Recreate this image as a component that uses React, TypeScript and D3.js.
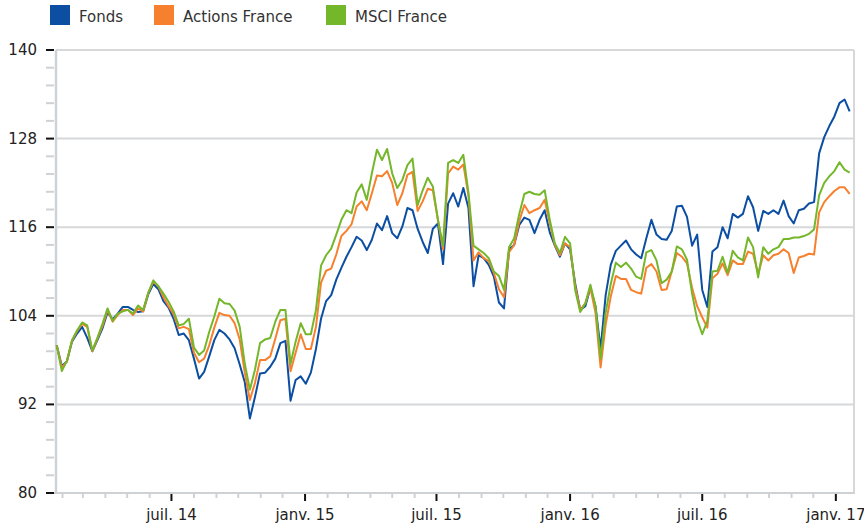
import React, { useEffect, useRef } from 'react';
import * as d3 from 'd3';

// weekly closes, base 100
const firstDate = new Date(2014, 0, 24);

const fonds = [
  100, 97.2, 97.8, 100.5, 101.6, 102.5, 101.0, 99.2, 100.7, 102.3,
  104.5, 103.5, 104.3, 105.2, 105.2, 104.8, 104.5, 104.6, 106.9, 108.3,
  107.6, 106.0, 105.1, 103.6, 101.4, 101.6, 100.7, 98.2, 95.5, 96.4,
  98.5, 100.7, 102.1, 101.6, 100.8, 99.6, 97.4, 95.0, 90.1, 93.0,
  96.2, 96.3, 97.1, 98.2, 100.3, 100.6, 92.5, 95.3, 95.8, 94.8,
  96.3, 99.5, 103.6, 106.0, 106.8, 108.9, 110.5, 112.0, 113.3, 114.7,
  114.2, 112.9, 114.3, 116.5, 115.6, 117.5, 115.2, 114.5, 116.1, 118.6,
  118.3, 115.8, 114.0, 112.5, 115.8, 116.5, 111.0, 119.2, 120.6, 118.8,
  121.3, 118.6, 108.0, 112.2, 111.8, 110.9, 109.3, 105.8, 105.0, 113.0,
  113.6, 116.3, 117.3, 117.0, 115.2, 117.0, 118.3, 115.3, 113.5, 112.0,
  113.8, 113.0, 108.4, 104.8, 105.3, 107.8, 105.3, 99.5, 106.8, 110.9,
  112.8, 113.5, 114.2, 113.0, 112.3, 111.8, 114.5, 117.0, 115.0, 114.4,
  114.3, 115.5, 118.8, 118.9, 117.4, 113.5, 115.0, 107.5, 105.2, 112.7,
  113.3, 116.0, 114.5, 117.8, 117.3, 117.8, 120.2, 118.7, 115.5, 118.2,
  117.8, 118.3, 117.8, 119.6, 117.5, 116.5, 118.3, 118.5, 119.2, 119.4,
  126.0, 128.2, 129.7, 131.0, 132.8, 133.3, 131.7
];

const actionsFrance = [
  100, 97.0, 97.8, 100.6, 101.9, 102.9, 102.5, 99.2, 100.9, 102.6,
  104.8, 103.2, 104.1, 104.8, 104.8, 104.1, 105.0, 104.6, 107.1, 108.6,
  108.0, 106.5, 105.3, 104.2, 102.3, 102.5, 102.2, 99.0, 97.7, 98.2,
  100.0, 102.4, 104.4, 104.1, 104.0, 103.0, 100.8, 96.3, 92.6, 94.9,
  98.0, 98.0, 98.5, 100.9, 103.4, 103.6, 96.5, 99.0, 101.5, 99.5,
  99.5, 102.5, 108.5, 110.1, 110.4, 112.3, 114.8, 115.5, 116.4, 118.8,
  119.5, 118.3, 120.6, 123.0, 122.9, 123.6, 122.0, 119.0, 120.6, 123.1,
  123.5, 118.2, 119.5, 121.2, 121.0, 117.0, 113.0, 123.3, 124.2, 123.8,
  124.5, 120.3, 111.5, 112.6, 111.8, 111.4, 109.8, 107.6, 106.5, 112.6,
  113.6, 116.8, 119.0, 117.9, 118.3, 118.6, 119.7, 116.5, 113.6, 112.2,
  113.8, 113.3, 108.0, 104.8, 105.7, 107.8, 104.4, 97.0, 102.8, 106.6,
  109.4, 109.0, 109.0, 107.5, 107.2, 107.0, 110.5, 111.0, 110.0, 107.5,
  107.6, 110.0, 112.5, 112.0, 111.1, 107.8, 105.3, 103.8, 102.4, 109.1,
  109.7, 111.1, 109.5, 111.5, 111.0, 111.0, 112.7, 112.4, 109.7, 112.2,
  111.5, 112.2, 112.4, 113.0, 112.5, 109.8, 111.9, 112.1, 112.4, 112.3,
  118.0, 119.4, 120.2, 120.9, 121.4, 121.4, 120.5
];

const msciFrance = [
  100, 96.5, 97.9, 100.7, 102.0, 103.1, 102.7, 99.3, 101.0, 102.9,
  105.0, 103.3, 104.3, 104.6, 104.8, 104.3, 105.4, 104.8, 107.1, 108.8,
  108.0, 107.0, 105.9, 104.6, 102.7, 102.9, 103.6, 99.7, 98.7, 99.3,
  101.8, 103.9, 106.3, 105.7, 105.6, 104.7, 102.5, 97.5, 94.0, 96.7,
  100.3, 100.8, 101.0, 103.2, 104.8, 104.8, 97.5, 100.5, 103.0, 101.5,
  101.5, 104.8, 110.8, 112.2, 113.1, 115.0, 117.0, 118.3, 117.9, 120.7,
  121.8, 119.7, 123.3, 126.5, 125.1, 126.6, 123.3, 121.3, 122.4, 124.4,
  125.3, 119.0, 121.0, 122.7, 121.5, 117.0, 113.5, 124.7, 125.1, 124.7,
  125.8, 120.7, 113.5, 113.0, 112.5, 111.8, 110.0, 109.4, 107.5, 113.3,
  114.5, 117.8, 120.5, 120.8, 120.5, 120.4, 121.0, 117.0, 113.8, 112.5,
  114.7, 113.8, 107.5, 104.5, 105.7, 108.2, 105.3, 98.2, 104.4, 108.3,
  111.2, 110.6, 111.2, 110.4, 109.3, 109.0, 112.6, 112.9, 111.5, 108.4,
  108.9, 110.0, 113.4, 113.0, 111.6, 107.0, 103.5, 101.5, 103.3, 110.0,
  110.1, 112.0, 109.8, 112.8, 111.9, 111.5, 114.6, 113.3, 109.2, 113.3,
  112.4, 113.0, 113.3, 114.4, 114.4, 114.6, 114.6, 114.8, 115.1, 115.7,
  120.3, 122.0, 122.9, 123.6, 124.8, 123.8, 123.4
];

const seriesNames = ['Fonds', 'Actions France', 'MSCI France'];
const seriesColors = ['#0b4ea2', '#f6802e', '#74b72a'];

const yTicks = [80, 92, 104, 116, 128, 140];
const xTickDates = [
  new Date(2014, 6, 1), new Date(2015, 0, 1), new Date(2015, 6, 1),
  new Date(2016, 0, 1), new Date(2016, 6, 1), new Date(2017, 0, 1)
];
const xTickLabels = ['juil. 14', 'janv. 15', 'juil. 15', 'janv. 16', 'juil. 16', 'janv. 17'];

const dates = fonds.map((_, i) => d3.timeDay.offset(firstDate, i * 7));

const FONT = '"DejaVu Sans", Verdana, sans-serif';

export default function App() {
  const ref = useRef<SVGSVGElement>(null);

  useEffect(() => {
    const svg = d3.select(ref.current);
    svg.selectAll('*').remove();

    const left = 56, right = 854, top = 50, bottom = 493;
    const x = d3.scaleTime()
      .domain([new Date(2014, 0, 23), new Date(2017, 0, 26)])
      .range([left, right]);
    const y = d3.scaleLinear().domain([80, 140]).range([bottom, top]);

    // legend
    const legend = svg.append('g');
    const legendX = [50, 154, 326];
    seriesNames.forEach((name, i) => {
      legend.append('rect')
        .attr('x', legendX[i]).attr('y', 5)
        .attr('width', 20).attr('height', 20)
        .attr('fill', seriesColors[i]);
      legend.append('text')
        .attr('x', legendX[i] + 29).attr('y', 22)
        .style('font-family', FONT).style('font-size', '15px')
        .attr('fill', '#333')
        .text(name);
    });

    // grid
    svg.append('g').selectAll('line')
      .data(yTicks.filter((t) => t !== 80))
      .enter().append('line')
      .attr('x1', left).attr('x2', right)
      .attr('y1', (d) => y(d)).attr('y2', (d) => y(d))
      .attr('stroke', '#d6d8da').attr('stroke-width', 2);
    svg.append('line')
      .attr('x1', right).attr('x2', right).attr('y1', top).attr('y2', bottom)
      .attr('stroke', '#d6d8da').attr('stroke-width', 2);

    // y axis
    const minorY = d3.range(80, 140.01, 2.4).filter((v) => !yTicks.some((t) => Math.abs(t - v) < 0.01));
    svg.append('g').selectAll('line')
      .data(minorY)
      .enter().append('line')
      .attr('x1', 46).attr('x2', 54)
      .attr('y1', (d) => y(d)).attr('y2', (d) => y(d))
      .attr('stroke', '#cfd2d5').attr('stroke-width', 2);
    svg.append('g').selectAll('line')
      .data(yTicks)
      .enter().append('line')
      .attr('x1', 46).attr('x2', 54)
      .attr('y1', (d) => y(d)).attr('y2', (d) => y(d))
      .attr('stroke', '#111').attr('stroke-width', 2);
    svg.append('g').selectAll('text')
      .data(yTicks)
      .enter().append('text')
      .attr('x', 37).attr('y', (d) => y(d))
      .attr('text-anchor', 'end').attr('dominant-baseline', 'central')
      .style('font-family', FONT).style('font-size', '15px')
      .attr('fill', '#222')
      .text((d) => d);
    svg.append('line')
      .attr('x1', left).attr('x2', left).attr('y1', top).attr('y2', bottom + 1)
      .attr('stroke', '#cfd2d5').attr('stroke-width', 2.5);

    // x axis
    svg.append('line')
      .attr('x1', 54).attr('x2', right + 1).attr('y1', bottom).attr('y2', bottom)
      .attr('stroke', '#cfd2d5').attr('stroke-width', 2);
    const months = d3.timeMonth.range(x.domain()[0], x.domain()[1]);
    svg.append('g').selectAll('line')
      .data(months.filter((m) => m.getMonth() % 6 !== 0))
      .enter().append('line')
      .attr('x1', (d) => x(d)).attr('x2', (d) => x(d))
      .attr('y1', bottom + 1).attr('y2', bottom + 5)
      .attr('stroke', '#cfd2d5').attr('stroke-width', 2);
    svg.append('g').selectAll('line')
      .data(xTickDates)
      .enter().append('line')
      .attr('x1', (d) => x(d)).attr('x2', (d) => x(d))
      .attr('y1', bottom + 1).attr('y2', bottom + 8)
      .attr('stroke', '#111').attr('stroke-width', 2);
    svg.append('g').selectAll('text')
      .data(xTickDates)
      .enter().append('text')
      .attr('x', (d) => x(d)).attr('y', 520)
      .attr('text-anchor', 'middle')
      .style('font-family', FONT).style('font-size', '15px')
      .attr('fill', '#222')
      .text((d, i) => xTickLabels[i]);

    // series
    const line = d3.line<number>()
      .x((d, i) => x(dates[i]))
      .y((d) => y(d));
    [fonds, actionsFrance, msciFrance].forEach((values, i) => {
      svg.append('path')
        .datum(values)
        .attr('d', line)
        .attr('fill', 'none')
        .attr('stroke', seriesColors[i])
        .attr('stroke-width', 2)
        .attr('stroke-linejoin', 'round');
    });
  }, []);

  return (
    <div style={{ position: 'absolute', left: 0, top: 0 }}>
      <svg ref={ref} width={864} height={526} style={{ display: 'block', background: '#fff' }} />
    </div>
  );
}
